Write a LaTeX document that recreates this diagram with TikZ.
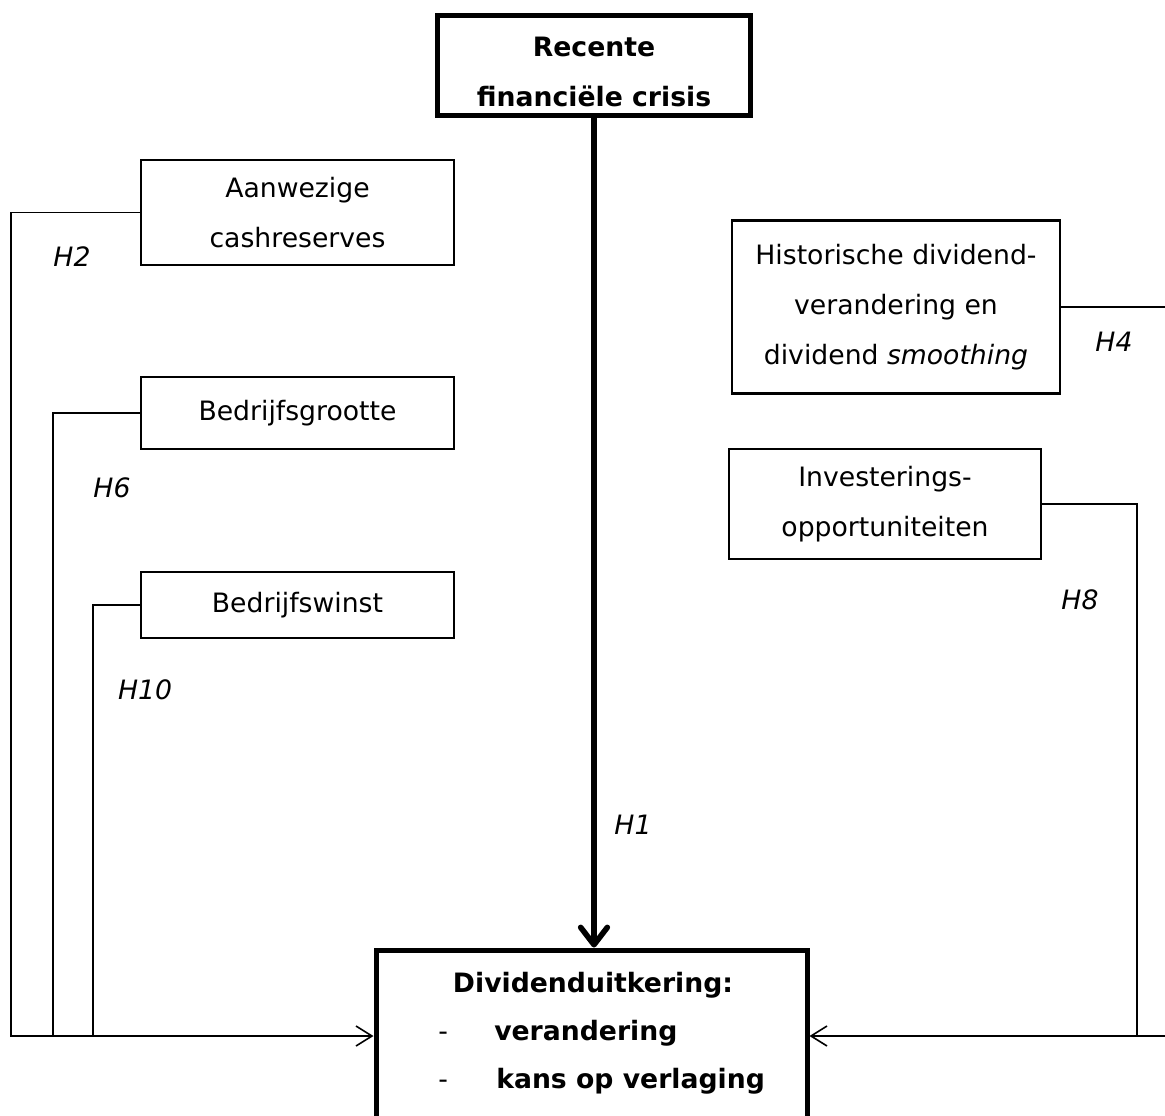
\documentclass[tikz,border=0pt]{standalone}
\usepackage{fontspec}
\setmainfont{DejaVu Sans}
\usetikzlibrary{arrows.meta}
\begin{document}
\begin{tikzpicture}[x=0.75pt,y=-0.75pt,
  txt/.style={font=\fontsize{20}{37.5}\selectfont, align=center, inner sep=0pt},
  box/.style={draw, line width=2pt, txt},
  bigbox/.style={draw, line width=3.75pt, txt},
  conn/.style={line width=1.2pt},
  tip/.style={-{Straight Barb[length=12pt,width=15pt]}},
  bigtip/.style={line width=4.2pt,-{Straight Barb[length=13pt,width=20pt,round]}},
  hyp/.style={font=\fontsize{20}{24}\selectfont\itshape, inner sep=0pt}]
\useasboundingbox (0,0) rectangle (1165,1115);
\clip (0,0) rectangle (1165,1115);
% boxes
\node[bigbox, minimum width=234.75pt, minimum height=75pt] (top) at (594,65) {};
\node[txt, font=\fontsize{20}{37}\selectfont\bfseries] (toptxt) at (594,72) {Recente\\financiële crisis};
\node[bigbox, minimum width=323.25pt, minimum height=165pt] (bot) at (591.5,1060) {};
\node[box, minimum width=234.75pt, minimum height=78.75pt] (aan) at (297.5,212.5) {Aanwezige\\cashreserves};
\node[box, minimum width=234.75pt, minimum height=54pt] (bg) at (297.5,413) {Bedrijfsgrootte};
\node[box, minimum width=234.75pt, minimum height=49.5pt] (bw) at (297.5,605) {Bedrijfswinst};
\node[box, minimum width=246pt, minimum height=129.75pt] (hist) at (896,307) {Historische dividend-\\verandering en\\dividend \textit{smoothing}};
\node[box, minimum width=234pt, minimum height=82.5pt] (inv) at (885,504) {Investerings-\\opportuniteiten};
% text in bottom box
\node[txt, font=\fontsize{20}{37}\selectfont\bfseries, anchor=base] (t0) at (593,992) {Dividenduitkering:};
\node[txt, font=\fontsize{20}{37}\selectfont\bfseries, anchor=base west] (t1) at (438,1040) {\makebox[42pt][l]{\mdseries -}verandering};
\node[txt, font=\fontsize{20}{37}\selectfont\bfseries, anchor=base west] (t2) at (438,1088) {\makebox[43.5pt][l]{\mdseries -}kans op verlaging};
% helper coordinates
\coordinate (hL) at (0,1036);
\coordinate (xL1) at (11,0);
\coordinate (xL2) at (53,0);
\coordinate (xL3) at (93,0);
\coordinate (xR) at (1137,0);
\coordinate (eR) at (1165,1036);
\coordinate (eH) at (1165,0);
% connectors
\draw[conn, tip] (aan.west) -- (aan.west -| xL1) |- (bot.west |- hL);
\draw[conn] (bg.west) -| (xL2 |- hL);
\draw[conn] (bw.west) -| (xL3 |- hL);
\draw[conn, tip] (eR) -- (bot.east |- hL);
\draw[conn] (inv.east) -| (xR |- hL);
\draw[conn] (hist.east) -- (hist.east -| eH);
\draw[bigtip] (top.south) -- (top.south |- bot.north);
% hypothesis labels
\node[hyp] (h2) at (72,257) {H2};
\node[hyp] (h6) at (112,488) {H6};
\node[hyp] (h10) at (145,690) {H10};
\node[hyp] (h4) at (1114,342) {H4};
\node[hyp] (h8) at (1080,600) {H8};
\node[hyp] (h1) at (633,825) {H1};
\end{tikzpicture}
\end{document}
